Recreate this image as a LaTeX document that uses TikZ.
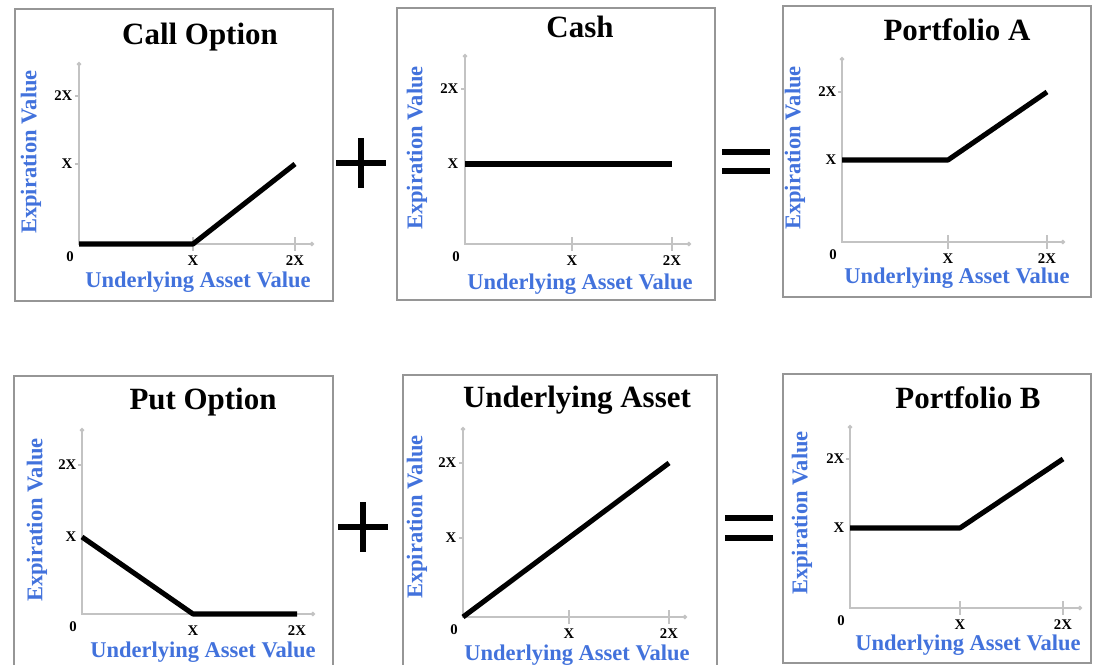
\documentclass[tikz,border=0pt]{standalone}
\usepackage{fontspec}
\setmainfont{Liberation Serif}
\usetikzlibrary{arrows.meta}
\usetikzlibrary{positioning}

\definecolor{lblblue}{RGB}{66,114,220}
\definecolor{boxgray}{RGB}{150,150,150}
\definecolor{axisgray}{RGB}{195,195,195}

\begin{document}
\begin{tikzpicture}

\tikzstyle{panel}=[draw=boxgray, line width=1.4pt]
\tikzstyle{axis}=[draw=axisgray, line width=1.3pt, {Circle[length=3pt,fill=black!70]}-{Circle[length=3pt,fill=black!70]}]
\tikzstyle{tick}=[draw=axisgray, line width=0.8pt]
\tikzstyle{payoff}=[line width=3.6pt, line join=round]
\tikzstyle{title}=[font=\fontsize{22}{24}\selectfont\bfseries]
\tikzstyle{xlabel}=[font=\fontsize{16}{18}\selectfont\bfseries, text=lblblue]
\tikzstyle{ylabel}=[font=\fontsize{16}{18}\selectfont\bfseries, text=lblblue, rotate=90]
\tikzstyle{ticklab}=[font=\fontsize{10.5}{11}\selectfont\bfseries, inner sep=1pt]
\tikzstyle{sign}=[line width=4.3pt]

\useasboundingbox (0,0) rectangle (27.325,16.625);

% call option
\draw[panel] (0.375,9.1) rectangle (8.325,16.4);
\node[title] (calltitle) at (5.0,15.7) {Call Option};
\coordinate (co) at (1.975,10.525);
\coordinate (cy) at (1.975,15.075);
\coordinate (cx) at (7.85,10.525);
\coordinate (ck) at (4.825,10.525);
\coordinate (ce) at (7.375,12.525);
\draw[axis] (cy) -- (co) -- (cx);
\draw[tick] (4.825,10.35) -- (4.825,10.7);
\draw[tick] (7.375,10.35) -- (7.375,10.7);
\draw[tick] (1.875,12.525) -- (1.975,12.525);
\draw[tick] (1.875,14.225) -- (1.975,14.225);
\node[ticklab] (c0) at (1.75,10.2) {0};
\node[ticklab] (c1) at (4.825,10.1) {X};
\node[ticklab] (c2) at (7.375,10.1) {2X};
\node[ticklab, left] (c3) at (1.85,12.525) {X};
\node[ticklab, left] (c4) at (1.85,14.225) {2X};
\node[xlabel] (callx) at (4.95,9.575) {Underlying Asset Value};
\node[ylabel] (cally) at (0.775,12.825) {Expiration Value};
\draw[payoff] (co) -- (ck) -- (ce);

% cash
\draw[panel] (9.925,9.125) rectangle (17.875,16.425);
\node[title] (cashtitle) at (14.5,15.95) {Cash};
\coordinate (ho) at (11.625,10.525);
\coordinate (hy) at (11.625,15.275);
\coordinate (hx) at (17.275,10.525);
\coordinate (hs) at (11.625,12.525);
\coordinate (he) at (16.8,12.525);
\draw[axis] (hy) -- (ho) -- (hx);
\draw[tick] (14.3,10.35) -- (14.3,10.7);
\draw[tick] (16.8,10.35) -- (16.8,10.7);
\draw[tick] (11.525,14.4) -- (11.625,14.4);
\node[ticklab] (h0) at (11.4,10.2) {0};
\node[ticklab] (h1) at (14.3,10.1) {X};
\node[ticklab] (h2) at (16.8,10.1) {2X};
\node[ticklab, left] (h3) at (11.5,12.525) {X};
\node[ticklab, left] (h4) at (11.5,14.4) {2X};
\node[xlabel] (cashx) at (14.5,9.525) {Underlying Asset Value};
\node[ylabel] (cashy) at (10.425,12.925) {Expiration Value};
\draw[payoff] (hs) -- (he);

% portfolio a
\draw[panel] (19.575,9.2) rectangle (27.275,16.475);
\node[title] (patitle) at (23.925,15.875) {Portfolio A};
\coordinate (ao) at (21.05,10.575);
\coordinate (ay) at (21.05,15.2);
\coordinate (ax) at (26.625,10.575);
\coordinate (as) at (21.05,12.625);
\coordinate (ak) at (23.7,12.625);
\coordinate (ae) at (26.175,14.325);
\draw[axis] (ay) -- (ao) -- (ax);
\draw[tick] (23.7,10.4) -- (23.7,10.75);
\draw[tick] (26.175,10.4) -- (26.175,10.75);
\draw[tick] (20.95,14.325) -- (21.05,14.325);
\node[ticklab] (a0) at (20.825,10.25) {0};
\node[ticklab] (a1) at (23.7,10.15) {X};
\node[ticklab] (a2) at (26.175,10.15) {2X};
\node[ticklab, left] (a3) at (20.95,12.625) {X};
\node[ticklab, left] (a4) at (20.95,14.325) {2X};
\node[xlabel] (pax) at (23.925,9.675) {Underlying Asset Value};
\node[ylabel] (pay) at (19.875,12.925) {Expiration Value};
\draw[payoff] (as) -- (ak) -- (ae);

% put option
\draw[panel] (0.35,-0.5) rectangle (8.325,7.225);
\node[title] (puttitle) at (5.075,6.575) {Put Option};
\coordinate (po) at (2.05,1.275);
\coordinate (py) at (2.05,5.925);
\coordinate (px) at (7.875,1.275);
\coordinate (ps) at (2.05,3.2);
\coordinate (pk) at (4.825,1.275);
\coordinate (pe) at (7.425,1.275);
\draw[axis] (py) -- (po) -- (px);
\draw[tick] (1.95,5.0) -- (2.05,5.0);
\node[ticklab] (p0) at (1.825,0.95) {0};
\node[ticklab] (p1) at (4.825,0.85) {X};
\node[ticklab] (p2) at (7.425,0.85) {2X};
\node[ticklab, left] (p3) at (1.95,3.2) {X};
\node[ticklab, left] (p4) at (1.95,5.0) {2X};
\node[xlabel] (putx) at (5.075,0.325) {Underlying Asset Value};
\node[ylabel] (puty) at (0.925,3.625) {Expiration Value};
\draw[payoff] (ps) -- (pk) -- (pe);

% underlying asset
\draw[panel] (10.075,-0.5) rectangle (17.925,7.25);
\node[title] (uatitle) at (14.425,6.625) {Underlying Asset};
\coordinate (uo) at (11.575,1.2);
\coordinate (uy) at (11.575,5.95);
\coordinate (ux) at (17.175,1.2);
\coordinate (ue) at (16.725,5.05);
\draw[axis] (uy) -- (uo) -- (ux);
\draw[tick] (14.225,1.025) -- (14.225,1.375);
\draw[tick] (16.725,1.025) -- (16.725,1.375);
\draw[tick] (11.475,3.175) -- (11.575,3.175);
\draw[tick] (11.475,5.05) -- (11.575,5.05);
\node[ticklab] (u0) at (11.35,0.875) {0};
\node[ticklab] (u1) at (14.225,0.775) {X};
\node[ticklab] (u2) at (16.725,0.775) {2X};
\node[ticklab, left] (u3) at (11.45,3.175) {X};
\node[ticklab, left] (u4) at (11.45,5.05) {2X};
\node[xlabel] (uax) at (14.425,0.25) {Underlying Asset Value};
\node[ylabel] (uay) at (10.425,3.7) {Expiration Value};
\draw[payoff] (uo) -- (ue);

% portfolio b
\draw[panel] (19.575,0.05) rectangle (27.275,7.275);
\node[title] (pbtitle) at (24.2,6.675) {Portfolio B};
\coordinate (bo) at (21.25,1.425);
\coordinate (by) at (21.25,6.0);
\coordinate (bx) at (27.05,1.425);
\coordinate (bs) at (21.25,3.425);
\coordinate (bk) at (24.0,3.425);
\coordinate (be) at (26.575,5.15);
\draw[axis] (by) -- (bo) -- (bx);
\draw[tick] (24.0,1.25) -- (24.0,1.6);
\draw[tick] (26.575,1.25) -- (26.575,1.6);
\draw[tick] (21.15,5.15) -- (21.25,5.15);
\node[ticklab] (b0) at (21.025,1.1) {0};
\node[ticklab] (b1) at (24.0,1.0) {X};
\node[ticklab] (b2) at (26.575,1.0) {2X};
\node[ticklab, left] (b3) at (21.15,3.425) {X};
\node[ticklab, left] (b4) at (21.15,5.15) {2X};
\node[xlabel] (pbx) at (24.2,0.5) {Underlying Asset Value};
\node[ylabel] (pby) at (20.05,3.8) {Expiration Value};
\draw[payoff] (bs) -- (bk) -- (be);

% plus and equals
\draw[sign] (8.4,12.55) -- (9.65,12.55);
\draw[sign] (9.025,11.925) -- (9.025,13.175);
\draw[sign] (18.05,12.825) -- (19.25,12.825);
\draw[sign] (18.05,12.35) -- (19.25,12.35);
\draw[sign] (8.45,3.45) -- (9.7,3.45);
\draw[sign] (9.075,2.825) -- (9.075,4.075);
\draw[sign] (18.125,3.675) -- (19.325,3.675);
\draw[sign] (18.125,3.175) -- (19.325,3.175);

\end{tikzpicture}
\end{document}
